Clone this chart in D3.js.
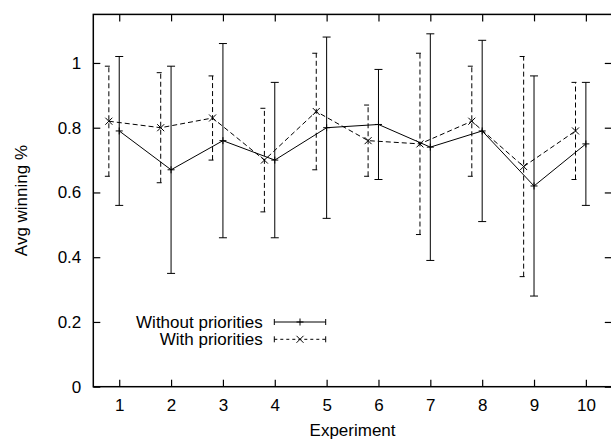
<!DOCTYPE html>
<html>
<head>
<meta charset="utf-8">
<script src="https://cdn.jsdelivr.net/npm/d3@7/dist/d3.min.js"></script>
<style>
  html, body { margin: 0; padding: 0; background: #fff; }
  svg { display: block; }
  text { font-family: "Liberation Sans", Arial, sans-serif; font-size: 17px; fill: #000; }
</style>
</head>
<body>
<svg id="chart" width="611" height="439"></svg>
<script>
const experiments = [1, 2, 3, 4, 5, 6, 7, 8, 9, 10];
const withoutMean = [0.79, 0.67, 0.76, 0.70, 0.80, 0.81, 0.74, 0.79, 0.62, 0.75];
const withoutLow  = [0.56, 0.35, 0.46, 0.46, 0.52, 0.64, 0.39, 0.51, 0.28, 0.56];
const withoutHigh = [1.02, 0.99, 1.06, 0.94, 1.08, 0.98, 1.09, 1.07, 0.96, 0.94];
const withMean = [0.82, 0.80, 0.83, 0.70, 0.85, 0.76, 0.75, 0.82, 0.68, 0.79];
const withLow  = [0.65, 0.63, 0.70, 0.54, 0.67, 0.65, 0.47, 0.65, 0.34, 0.64];
const withHigh = [0.99, 0.97, 0.96, 0.86, 1.03, 0.87, 1.03, 0.99, 1.02, 0.94];
const withOffset = -0.2;
const yTicks = [0, 0.2, 0.4, 0.6, 0.8, 1];
const yTickLabels = ["0", "0.2", "0.4", "0.6", "0.8", "1"];
const seriesNames = ["Without priorities", "With priorities"];

(function () {
const svg = d3.select("#chart");
const pl = 93.3, pr = 611.8, pt = 14.4, pb = 386.7;
const x = d3.scaleLinear().domain([0.5, 10.5]).range([pl, pr]);
const y = d3.scaleLinear().domain([0, 1.15]).range([pb, pt]);

// Axes
const gx = svg.append("g").attr("transform", `translate(0,${pb})`)
  .call(d3.axisBottom(x).tickValues(experiments).tickFormat(d3.format("d")).tickSize(-7).tickSizeOuter(0).tickPadding(12));
const gxt = svg.append("g").attr("transform", `translate(0,${pt})`)
  .call(d3.axisTop(x).tickValues(experiments).tickFormat("").tickSize(-7).tickSizeOuter(0));
const gy = svg.append("g").attr("transform", `translate(${pl},0)`)
  .call(d3.axisLeft(y).tickValues(yTicks).tickFormat((d, i) => yTickLabels[i]).tickSize(-7).tickSizeOuter(0).tickPadding(12));
const gyr = svg.append("g").attr("transform", `translate(${pr},0)`)
  .call(d3.axisRight(y).tickValues(yTicks).tickFormat("").tickSize(-7).tickSizeOuter(0));
[gx, gxt, gy, gyr].forEach(g => {
  g.select(".domain").remove();
  g.selectAll(".tick line").attr("stroke", "#000").attr("stroke-width", 1.2);
  g.selectAll("text").attr("font-family", null).attr("font-size", null).attr("fill", "#000");
});

svg.append("rect").attr("x", pl).attr("y", pt)
  .attr("width", pr - pl).attr("height", pb - pt)
  .attr("fill", "none").attr("stroke", "#000").attr("stroke-width", 1.5);

// Axis titles
svg.append("text").attr("x", (pl + pr) / 2).attr("y", 436)
  .attr("text-anchor", "middle").text("Experiment");
svg.append("text").attr("transform", `translate(27,${(pt + pb) / 2}) rotate(-90)`)
  .attr("text-anchor", "middle").text("Avg winning %");

const capW = 4;
function drawSeries(xs, mean, low, high, dash, marker) {
  const g = svg.append("g").attr("stroke", "#000").attr("fill", "none").attr("stroke-width", 1);
  const pts = xs.map((v, i) => ({ x: v, m: mean[i], lo: low[i], hi: high[i] }));
  pts.forEach(p => {
    const eb = g.append("g").attr("stroke-dasharray", dash);
    eb.append("line").attr("x1", x(p.x)).attr("x2", x(p.x)).attr("y1", y(p.lo)).attr("y2", y(p.hi));
    eb.append("line").attr("x1", x(p.x) - capW).attr("x2", x(p.x) + capW).attr("y1", y(p.lo)).attr("y2", y(p.lo));
    eb.append("line").attr("x1", x(p.x) - capW).attr("x2", x(p.x) + capW).attr("y1", y(p.hi)).attr("y2", y(p.hi));
  });
  g.append("path").attr("stroke-dasharray", dash)
    .attr("d", d3.line().x(p => x(p.x)).y(p => y(p.m))(pts));
  pts.forEach(p => marker(g, x(p.x), y(p.m)));
}
function plusMarker(g, cx, cy) {
  const s = 3.5;
  g.append("path").attr("d", `M${cx - s},${cy}H${cx + s}M${cx},${cy - s}V${cy + s}`);
}
function crossMarker(g, cx, cy) {
  const s = 3.5;
  g.append("path").attr("d", `M${cx - s},${cy - s}L${cx + s},${cy + s}M${cx - s},${cy + s}L${cx + s},${cy - s}`);
}

drawSeries(experiments, withoutMean, withoutLow, withoutHigh, null, plusMarker);
drawSeries(experiments.map(e => e + withOffset), withMean, withLow, withHigh, "5,3", crossMarker);

// Legend
const legendRows = [
  { name: seriesNames[0], dash: null, marker: plusMarker, yy: 322 },
  { name: seriesNames[1], dash: "3,3", marker: crossMarker, yy: 339.3 }
];
legendRows.forEach(r => {
  svg.append("text").attr("x", 262.7).attr("y", r.yy).attr("dy", "0.36em")
    .attr("text-anchor", "end").text(r.name);
  const g = svg.append("g").attr("stroke", "#000").attr("fill", "none").attr("stroke-width", 1);
  const x1 = 274.3, x2 = 325.7;
  g.append("line").attr("x1", x1).attr("x2", x2).attr("y1", r.yy).attr("y2", r.yy).attr("stroke-dasharray", r.dash);
  g.append("line").attr("x1", x1).attr("x2", x1).attr("y1", r.yy - 3).attr("y2", r.yy + 3);
  g.append("line").attr("x1", x2).attr("x2", x2).attr("y1", r.yy - 3).attr("y2", r.yy + 3);
  r.marker(g, (x1 + x2) / 2, r.yy);
});
})();
</script>
</body>
</html>
